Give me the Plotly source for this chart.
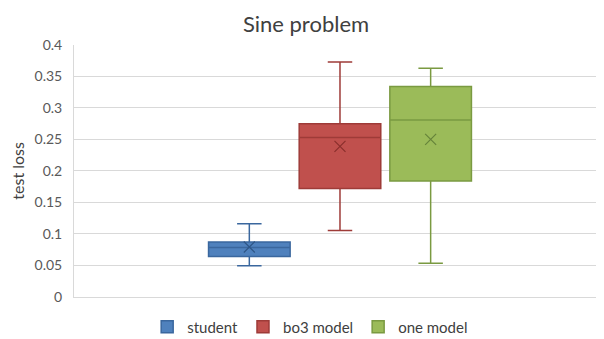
import plotly.graph_objects as go

categories = ["student", "bo3 model", "one model"]
lower_whisker = [0.049, 0.105, 0.053]
q1_values = [0.064, 0.172, 0.184]
median_values = [0.078, 0.253, 0.281]
q3_values = [0.087, 0.275, 0.334]
upper_whisker = [0.116, 0.373, 0.363]
mean_values = [0.079, 0.239, 0.250]

fill_colors = ["#4F81BD", "#C0504D", "#9BBB59"]
line_colors = ["#3A679E", "#9E3B38", "#7A9A41"]
mark_colors = ["#2F5788", "#8A2F2C", "#66843A"]

FONT = "Lato, 'Noto Sans', sans-serif"

fig = go.Figure()
for i, name in enumerate(categories):
    fig.add_trace(go.Box(
        name=name,
        x=[name],
        q1=[q1_values[i]],
        median=[median_values[i]],
        q3=[q3_values[i]],
        lowerfence=[lower_whisker[i]],
        upperfence=[upper_whisker[i]],
        fillcolor=fill_colors[i],
        line=dict(color=line_colors[i], width=1.5),
        whiskerwidth=0.3,
        boxpoints=False,
        showlegend=True,
    ))
for i, name in enumerate(categories):
    fig.add_trace(go.Scatter(
        x=[name],
        y=[mean_values[i]],
        mode="markers",
        marker=dict(symbol="x-thin-open", size=11,
                    line=dict(color=mark_colors[i], width=1.2),
                    color=mark_colors[i]),
        showlegend=False,
        hoverinfo="skip",
    ))

# page body has an 8px margin in the browser; size the figure to fit the window
fig.update_layout(
    width=596, height=331,
    margin=dict(l=64, r=6, t=37, b=41),
    paper_bgcolor="white", plot_bgcolor="white",
    font=dict(family=FONT, color="#595959", size=13),
    title=dict(text="Sine problem", x=0.5, xanchor="center", y=0.975, yanchor="top",
               font=dict(size=22, color="#404040", family=FONT)),
    boxgap=0.1, boxgroupgap=0,
    showlegend=True,
    legend=dict(orientation="h", xref="container", x=0.507, xanchor="center",
                yref="container", y=0.036, yanchor="middle",
                font=dict(size=15, color="#404040", family=FONT),
                itemwidth=30, traceorder="normal"),
)
fig.update_xaxes(
    type="category", categoryorder="array", categoryarray=categories,
    range=[-1.934, 3.846], showticklabels=False, ticks="",
    showgrid=False, showline=True, linecolor="#D9D9D9", linewidth=1,
    zeroline=False, fixedrange=True,
)
fig.update_yaxes(
    range=[0, 0.4], dtick=0.05, tick0=0,
    showgrid=True, gridcolor="#D9D9D9", gridwidth=1,
    showline=True, linecolor="#D9D9D9", linewidth=1, mirror=False,
    zeroline=False, ticks="", ticklabelstandoff=8,
    tickfont=dict(size=14, color="#595959"),
    title=dict(text="test loss", font=dict(size=16, color="#404040"), standoff=9),
)

fig.write_html("out.html")
